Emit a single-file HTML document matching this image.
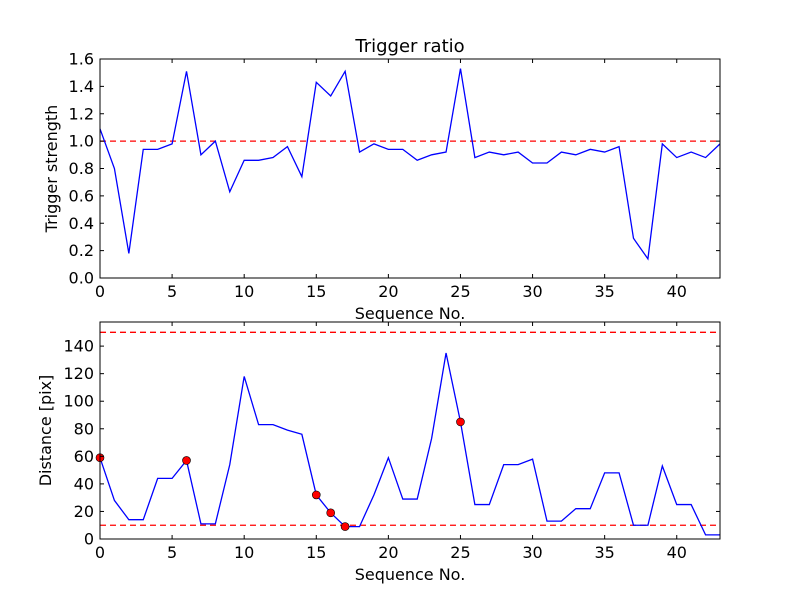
<!DOCTYPE html>
<html><head><meta charset="utf-8"><style>
body{margin:0;background:#fff;}
svg text{font-family:"DejaVu Sans","Liberation Sans",sans-serif;fill:#000;}
</style></head><body>
<svg id="c" width="800" height="600" viewBox="0 0 800 600"></svg>
<script>
const seqTop = [0,1,2,3,4,5,6,7,8,9,10,11,12,13,14,15,16,17,18,19,20,21,22,23,24,25,26,27,28,29,30,31,32,33,34,35,36,37,38,39,40,41,42,43];
const strength = [1.09,0.80,0.18,0.94,0.94,0.98,1.51,0.90,1.00,0.63,0.86,0.86,0.88,0.96,0.74,1.43,1.33,1.51,0.92,0.98,0.94,0.94,0.86,0.90,0.92,1.53,0.88,0.92,0.90,0.92,0.84,0.84,0.92,0.90,0.94,0.92,0.96,0.29,0.14,0.98,0.88,0.92,0.88,0.98];
const distance = [59,28,14,14,44,44,57,11,11,54,118,83,83,79,76,32,19,9,9,32,59,29,29,73,135,85,25,25,54,54,58,13,13,22,22,48,48,10,10,53,25,25,3,3];
const markerIdx = [0,6,15,16,17,25];
const xTicks = [0,5,10,15,20,25,30,35,40];
const yTicksTop = [0.0,0.2,0.4,0.6,0.8,1.0,1.2,1.4,1.6];
const yTicksBot = [0,20,40,60,80,100,120,140];
const thrTop = [1.0];
const thrBot = [10,150];

const NS="http://www.w3.org/2000/svg";
const svg=document.getElementById('c');
function mk(tag,attrs,parent){const e=document.createElementNS(NS,tag);for(const k in attrs)e.setAttribute(k,attrs[k]);(parent||svg).appendChild(e);return e;}

function panel(o){
  const g=mk('g',{});
  
  
  const X=v=>o.x0+(v-0)/(43-0)*(o.x1-o.x0);
  const Y=v=>o.y1-(v-o.ymin)/(o.ymax-o.ymin)*(o.y1-o.y0);
  o.thr.forEach(t=>{
    const l=mk('line',{x1:o.x0,x2:o.x1,y1:Y(t),y2:Y(t),stroke:'#ff0000','stroke-width':1.3,'stroke-dasharray':'6,4'},g);
    
    
  });
  const pts=seqTop.map((s,i)=>X(s).toFixed(2)+','+Y(o.vals[i]).toFixed(2)).join(' ');
  const pl=mk('polyline',{points:pts,fill:'none',stroke:'#0000ff','stroke-width':1.3},g);
  
  
  if(o.markers){
    o.markers.forEach(i=>{
      const c=mk('circle',{cx:X(seqTop[i]),cy:Y(o.vals[i]),r:4,fill:'#ff0000',stroke:'#000','stroke-width':0.6},g);
      
      
    });
  }
  const fr=mk('rect',{x:o.x0,y:o.y0,width:o.x1-o.x0,height:o.y1-o.y0,fill:'none',stroke:'#000','stroke-width':1},g);
  
  
  xTicks.forEach(t=>{
    const x=X(t);
    mk('line',{x1:x,x2:x,y1:o.y1,y2:o.y1-4,stroke:'#000'},g);
    mk('line',{x1:x,x2:x,y1:o.y0,y2:o.y0+4,stroke:'#000'},g);
    const tx=mk('text',{x:x,y:o.y1+19,'text-anchor':'middle','font-size':16},g);
    tx.textContent=t;
    
    
  });
  o.yt.forEach(t=>{
    const y=Y(t);
    mk('line',{x1:o.x0,x2:o.x0+4,y1:y,y2:y,stroke:'#000'},g);
    mk('line',{x1:o.x1,x2:o.x1-4,y1:y,y2:y,stroke:'#000'},g);
    const tx=mk('text',{x:o.x0-6,y:y+5.5,'text-anchor':'end','font-size':16},g);
    tx.textContent=o.fmt(t);
    
    
  });
  const xl=mk('text',{x:(o.x0+o.x1)/2,y:o.y1+41,'text-anchor':'middle','font-size':16},g);
  xl.textContent='Sequence No.';
  
  
  const cy=(o.y0+o.y1)/2;
  const yl=mk('text',{x:o.ylx,y:cy,'text-anchor':'middle','font-size':16,transform:`rotate(-90 ${o.ylx} ${cy})`},g);
  yl.textContent=o.ylabel;
  
  
  if(o.title){
    const t=mk('text',{x:(o.x0+o.x1)/2,y:o.y0-7,'text-anchor':'middle','font-size':18},g);
    t.textContent=o.title;
    
    
  }
}
panel({name:'trigger-strength-chart',x0:100,x1:720,y0:59,y1:278,ymin:0,ymax:1.6,vals:strength,thr:thrTop,yt:yTicksTop,fmt:v=>v.toFixed(1),ylabel:'Trigger strength',ylx:57,title:'Trigger ratio'});
panel({name:'distance-chart',x0:100,x1:720,y0:322,y1:539,ymin:0,ymax:157.5,vals:distance,thr:thrBot,yt:yTicksBot,fmt:v=>String(v),ylabel:'Distance [pix]',ylx:51,markers:markerIdx});
</script>
</body></html>
